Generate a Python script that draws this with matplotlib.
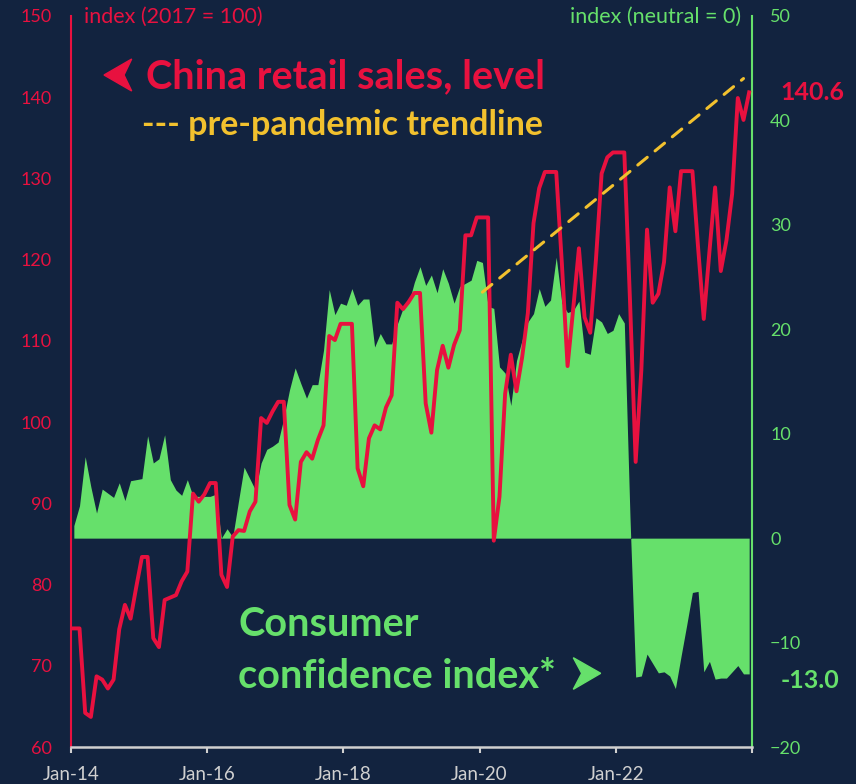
import numpy as np
import matplotlib
matplotlib.use("Agg")
import matplotlib.pyplot as plt
from matplotlib.patches import Polygon

# monthly data, Jan-14 .. Dec-23
start_year = 2014
retail_sales = [
    74.6, 74.6, 64.2, 63.7, 68.7, 68.3, 67.2, 68.3, 74.5, 77.5, 75.8, 79.7,
    83.4, 83.4, 73.4, 72.3, 78.1, 78.4, 78.7, 80.4, 81.6, 91.2, 90.2, 91.1,
    92.5, 92.5, 81.2, 79.7, 85.9, 86.7, 86.6, 89.0, 90.2, 100.5, 99.9, 101.3,
    102.5, 102.5, 89.8, 88.0, 95.1, 96.3, 95.5, 97.8, 99.6, 110.6, 110.1, 112.1,
    112.1, 112.1, 94.3, 92.1, 98.0, 99.6, 99.1, 101.8, 103.3, 114.7, 113.9, 114.8,
    115.9, 115.9, 102.3, 98.7, 106.4, 109.4, 106.7, 109.5, 111.3, 123.0, 123.0, 125.2,
    125.2, 125.2, 85.4, 90.8, 103.5, 108.3, 103.8, 108.0, 113.4, 124.5, 128.8, 130.8,
    130.8, 130.8, 119.5, 106.9, 114.0, 121.4, 112.9, 111.0, 120.0, 130.6, 132.6, 133.2,
    133.2, 133.2, 115.0, 95.1, 106.4, 123.7, 114.7, 115.8, 119.7, 128.9, 123.5, 130.9,
    130.9, 130.9, 121.5, 112.7, 121.0, 128.9, 118.6, 122.4, 128.1, 139.9, 137.2, 140.6,
]
consumer_confidence = [
    1.2, 3.1, 7.8, 4.9, 2.4, 4.7, 4.3, 3.9, 5.3, 3.6, 5.5, 5.6,
    5.7, 9.8, 7.2, 7.6, 9.9, 5.6, 4.6, 4.1, 5.6, 4.0, 4.0, 4.0,
    4.0, 4.2, 0.0, 0.9, 0.1, 3.5, 6.8, 5.7, 4.6, 7.2, 8.5, 8.8,
    9.2, 11.5, 14.2, 16.3, 14.8, 13.4, 14.7, 14.7, 18.0, 23.8, 21.4, 22.5,
    22.3, 23.9, 22.3, 22.9, 22.9, 18.3, 19.6, 18.6, 18.6, 20.5, 22.0, 22.5,
    24.5, 26.0, 24.2, 25.2, 23.5, 25.8, 24.4, 22.5, 24.1, 24.4, 24.7, 26.6,
    26.4, 22.2, 22.0, 16.4, 15.8, 12.7, 17.0, 19.0, 20.7, 21.5, 23.9, 22.2,
    22.8, 26.9, 22.5, 21.6, 21.8, 22.7, 17.8, 17.6, 21.1, 20.7, 19.6, 19.9,
    21.5, 20.6, 2.0, -13.3, -13.2, -11.1, -12.0, -12.9, -12.8, -13.2, -14.4, -11.3,
    -8.3, -5.2, -5.1, -12.8, -11.8, -13.5, -13.4, -13.4, -12.8, -12.2, -13.0, -13.0,
]
# pre-pandemic trendline (month index from Jan-14, index level)
trend_months = [72, 118]
trend_values = [116.0, 142.3]

tick_labels = ["Jan-14", "Jan-16", "Jan-18", "Jan-20", "Jan-22", ""]

BG = "#12233f"
RED = "#e8113f"
GREEN = "#66e06b"
YELLOW = "#f2c12e"
GREY = "#d0d0d0"

plt.rcParams["font.family"] = ["Lato", "DejaVu Sans"]

W, H = 856, 784
fig = plt.figure(figsize=(W / 100, H / 100), dpi=100, facecolor=BG)
ax = fig.add_axes([71 / W, 1 - 747 / H, (752 - 71) / W, (747 - 16) / H])
ax2 = ax.twinx()
ax.set_zorder(ax2.get_zorder() + 1)
ax.patch.set_visible(False)
ax2.set_facecolor(BG)

x = np.arange(len(retail_sales)) + 0.5
ax2.fill_between(x, 0, consumer_confidence, color=GREEN, lw=0)
ax.plot(x, retail_sales, color=RED, lw=2.8, solid_joinstyle="round", zorder=3)
ax.plot(np.array(trend_months) + 0.5, trend_values, color=YELLOW, lw=2.2,
        dashes=(4, 3.3), dash_capstyle="round", zorder=4)

ax.set_xlim(0, 120)
ax.set_ylim(60, 150)
ax2.set_ylim(-20, 50)
ax.set_yticks(range(60, 151, 10))
ax2.set_yticks(range(-20, 51, 10))
ax.set_xticks(range(0, 121, 24))
ax.set_xticklabels(tick_labels)

for a in (ax, ax2):
    for s in a.spines.values():
        s.set_visible(False)
ax.spines["left"].set_visible(True)
ax.spines["left"].set_color(RED)
ax.spines["left"].set_linewidth(1.5)
ax.spines["bottom"].set_visible(True)
ax.spines["bottom"].set_color(GREY)
ax.spines["bottom"].set_linewidth(1.8)
ax2.spines["right"].set_visible(True)
ax2.spines["right"].set_color(GREEN)
ax2.spines["right"].set_linewidth(1.5)

ax.tick_params(axis="y", length=0, pad=14, labelsize=13, labelcolor=RED)
ax2.tick_params(axis="y", length=0, pad=13, labelsize=13, labelcolor=GREEN)
ax.tick_params(axis="x", length=4, width=1.5, color=GREY, pad=10,
               labelsize=13.5, labelcolor=GREY)


def px(xp, yp):
    return (xp / W, 1 - yp / H)


fig.text(*px(84, 17), "index (2017 = 100)", color=RED, fontsize=15.5, va="center")
fig.text(*px(741, 17), "index (neutral = 0)", color=GREEN, fontsize=15.5,
         va="center", ha="right")
fig.text(*px(146, 77), "China retail sales, level", color=RED, fontsize=28.5,
         fontweight="bold", va="center")
fig.text(*px(142, 125), "--- pre-pandemic trendline", color=YELLOW, fontsize=24.5,
         fontweight="bold", va="center")
fig.text(*px(238, 625), "Consumer", color=GREEN, fontsize=28.5,
         fontweight="bold", va="center")
fig.text(*px(238, 677), "confidence index*", color=GREEN, fontsize=28.5,
         fontweight="bold", va="center")
fig.text(*px(780, 92), f"{retail_sales[-1]:.1f}", color=RED, fontsize=18,
         fontweight="bold", va="center")
fig.text(*px(781, 681), f"{consumer_confidence[-1]:.1f}", color=GREEN, fontsize=18,
         fontweight="bold", va="center")

# arrow heads next to the labels
left_arrow = [px(104, 75), px(131.7, 59), px(124, 75), px(131.7, 91)]
right_arrow = [px(600.7, 673.3), px(573.3, 657.7), px(581.7, 673.3), px(573.3, 689.3)]
fig.patches.append(Polygon(left_arrow, closed=True, color=RED,
                           transform=fig.transFigure, figure=fig))
fig.patches.append(Polygon(right_arrow, closed=True, color=GREEN,
                           transform=fig.transFigure, figure=fig))

fig.savefig("out.png", dpi=100, facecolor=BG)
